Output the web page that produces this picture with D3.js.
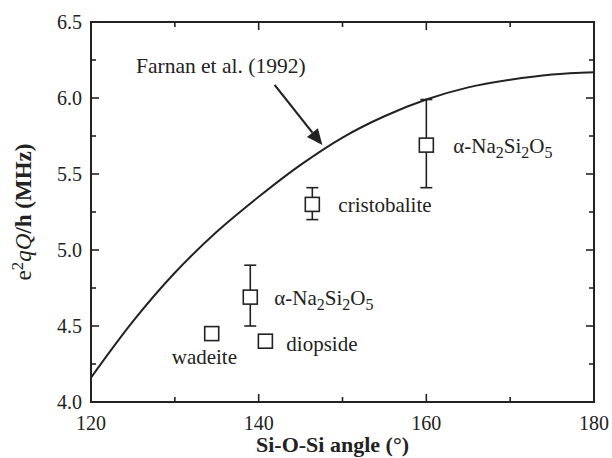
<!DOCTYPE html>
<html><head><meta charset="utf-8">
<script src="https://cdn.jsdelivr.net/npm/d3@7"></script>
</head><body style="margin:0">
<svg id="c" width="612" height="458" style="font-family: serif"></svg>
<script>
// Farnan et al. (1992) curve
const curveX = [120,125,130,135,140,145,150,155,160,165,170,175,180];
const curveY = [4.16,4.53,4.85,5.12,5.35,5.56,5.74,5.88,5.99,6.07,6.12,6.155,6.17];
// measured points
const pointNames = ["α-Na2Si2O5","cristobalite","α-Na2Si2O5","wadeite","diopside"];
const pointX = [160,146.4,139,134.4,140.8];
const pointY = [5.69,5.30,4.69,4.45,4.40];
const errLow = [5.41,5.20,4.50,null,null];
const errHigh = [5.99,5.41,4.90,null,null];
const xTicks = [120,140,160,180];
const yTicks = [4.0,4.5,5.0,5.5,6.0,6.5];

const FF = "serif";
const svg = d3.select("#c");
const m = {l:91, r:594, t:22, b:402};
const x = d3.scaleLinear().domain([120,180]).range([m.l,m.r]);
const y = d3.scaleLinear().domain([4.0,6.5]).range([m.b,m.t]);

const g = svg.append("g");
const minorX = d3.range(130,180,20);
const minorY = d3.range(4.25,6.5,0.5);

function ticks(vals, len, side){
  vals.forEach(v=>{
    let x1,y1,x2,y2;
    if(side==="b"){x1=x2=x(v);y1=m.b;y2=m.b-len;}
    if(side==="t"){x1=x2=x(v);y1=m.t;y2=m.t+len;}
    if(side==="l"){y1=y2=y(v);x1=m.l;x2=m.l+len;}
    if(side==="r"){y1=y2=y(v);x1=m.r;x2=m.r-len;}
    g.append("line").attr("x1",x1).attr("y1",y1).attr("x2",x2).attr("y2",y2)
      .attr("stroke","#222").attr("stroke-width",1.6);
  });
}
ticks(xTicks,8,"b"); ticks(minorX,5,"b"); ticks(xTicks,8,"t"); ticks(minorX,5,"t");
ticks(yTicks,8,"l"); ticks(minorY,5,"l"); ticks(yTicks,8,"r"); ticks(minorY,5,"r");

function txt(){ return g.append("text").attr("font-family",FF).style("font-family",FF).attr("fill","#222"); }
xTicks.forEach(v=>{
  txt().attr("x",x(v)).attr("y",m.b+28).attr("font-size",20).attr("text-anchor","middle").text(d3.format("d")(v));
});
yTicks.forEach(v=>{
  txt().attr("x",m.l-9).attr("y",y(v)+7).attr("font-size",20).attr("text-anchor","end").text(d3.format(".1f")(v));
});

g.append("rect").attr("x",m.l).attr("y",m.t).attr("width",m.r-m.l).attr("height",m.b-m.t)
  .attr("fill","none").attr("stroke","#222").attr("stroke-width",2);

const line = d3.line().x(d=>x(d[0])).y(d=>y(d[1])).curve(d3.curveCatmullRom);
g.append("path").datum(curveX.map((v,i)=>[v,curveY[i]]))
  .attr("d",line).attr("fill","none").attr("stroke","#222").attr("stroke-width",2);

// arrow
const a0 = [x(141.9), y(6.086)], a1 = [x(147.6), y(5.69)];
const ang = Math.atan2(a1[1]-a0[1], a1[0]-a0[0]);
const hl = 16, hw = 7;
const bx = a1[0]-hl*Math.cos(ang), by = a1[1]-hl*Math.sin(ang);
g.append("line").attr("x1",a0[0]).attr("y1",a0[1]).attr("x2",bx).attr("y2",by)
  .attr("stroke","#222").attr("stroke-width",2.2);
g.append("path").attr("d",`M${a1[0]},${a1[1]}L${bx+hw*Math.sin(ang)},${by-hw*Math.cos(ang)}L${bx-hw*Math.sin(ang)},${by+hw*Math.cos(ang)}Z`)
  .attr("fill","#222");
txt().attr("x",136).attr("y",73).attr("font-size",21.5).text("Farnan et al. (1992)");

pointX.forEach((px,i)=>{
  if(errLow[i]==null) return;
  const cx = x(px);
  g.append("line").attr("x1",cx).attr("x2",cx).attr("y1",y(errLow[i])).attr("y2",y(errHigh[i]))
    .attr("stroke","#222").attr("stroke-width",1.6);
  [errLow[i],errHigh[i]].forEach(v=>{
    g.append("line").attr("x1",cx-6).attr("x2",cx+6).attr("y1",y(v)).attr("y2",y(v))
      .attr("stroke","#222").attr("stroke-width",1.6);
  });
});
const sq = 14;
pointX.forEach((px,i)=>{
  g.append("rect").attr("x",x(px)-sq/2).attr("y",y(pointY[i])-sq/2).attr("width",sq).attr("height",sq)
    .attr("fill","#fff").attr("stroke","#222").attr("stroke-width",1.6);
});
const labOff = [[27,8],[26,8],[24,8],[-40,30],[21,10]];
pointNames.forEach((name,i)=>{
  const t = txt().attr("x",x(pointX[i])+labOff[i][0]).attr("y",y(pointY[i])+labOff[i][1])
    .attr("font-size",21);
  const parts = name.split(/(\d)/).filter(p=>p!=="");
  let down = false;
  parts.forEach(p=>{
    if(/^\d$/.test(p)){
      t.append("tspan").attr("dy",down?0:5).attr("font-size",16).text(p);
      down = true;
    } else {
      t.append("tspan").attr("dy",down?-5:0).text(p);
      down = false;
    }
  });
});

txt().attr("x",(m.l+m.r)/2-10).attr("y",452).attr("text-anchor","middle")
  .attr("font-size",22).attr("font-weight","bold").text("Si-O-Si angle (°)");
const yt = txt().attr("transform",`translate(31,${(m.t+m.b)/2}) rotate(-90)`)
  .attr("text-anchor","middle").attr("font-size",23);
yt.append("tspan").text("e");
yt.append("tspan").attr("font-size",17).attr("dy",-8).text("2");
yt.append("tspan").attr("dy",8).attr("font-style","italic").text("qQ");
yt.append("tspan").attr("font-weight","bold").text("/h (MHz)");
</script>
</body></html>
